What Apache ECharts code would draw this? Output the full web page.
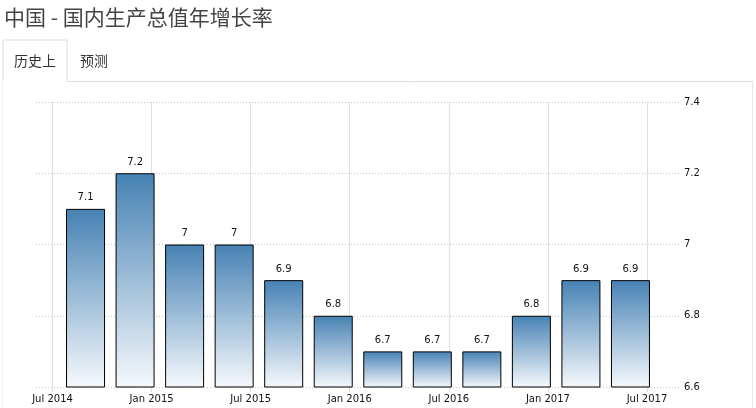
<!DOCTYPE html>
<html>
<head>
<meta charset="utf-8">
<script src="https://cdn.jsdelivr.net/npm/echarts@6/dist/echarts.min.js"></script>
<style>
html,body{margin:0;padding:0;background:#fff;}
#c{width:756px;height:408px;}
</style>
</head>
<body>
<div id="c"></div>
<script>
// Month index: months since Jan 2014 (Jan 2014 = 0)
const barMonths = [8, 11, 14, 17, 20, 23, 26, 29, 32, 35, 38, 41];
const gdpGrowth = [7.1, 7.2, 7.0, 7.0, 6.9, 6.8, 6.7, 6.7, 6.7, 6.8, 6.9, 6.9];
const tickMonths = [6, 12, 18, 24, 30, 36, 42];
const xTickLabels = ['Jul 2014', 'Jan 2015', 'Jul 2015', 'Jan 2016', 'Jul 2016', 'Jan 2017', 'Jul 2017'];
const yTicks = [6.6, 6.8, 7, 7.2, 7.4];

const chart = echarts.init(document.getElementById('c'));
const font = 'DejaVu Sans, Verdana, sans-serif';
const cjk = '"Noto Sans CJK SC", sans-serif';

chart.setOption({
  animation: false,
  title: {
    text: '中国 - 国内生产总值年增长率',
    left: 4, top: 7, padding: 0,
    textStyle: { fontFamily: cjk, fontSize: 21, fontWeight: 'normal', color: '#444' }
  },
  graphic: [
    { type: 'polyline', shape: { points: [[3, 81], [3, 40], [67, 40], [67, 81]] }, style: { stroke: '#dddddd', fill: null, lineWidth: 1 } },
    { type: 'line', shape: { x1: 67, y1: 81.5, x2: 752.5, y2: 81.5 }, style: { stroke: '#dddddd', lineWidth: 1 } },
    { type: 'line', shape: { x1: 752.5, y1: 81, x2: 752.5, y2: 408 }, style: { stroke: '#e8e8e8', lineWidth: 1 } },
    { type: 'line', shape: { x1: 2.5, y1: 81, x2: 2.5, y2: 408 }, style: { stroke: '#f2f2f2', lineWidth: 1 } },
    { type: 'text', x: 35, y: 61, style: { text: '历史上', fontFamily: cjk, fontSize: 14, fill: '#333', align: 'center', verticalAlign: 'middle' } },
    { type: 'text', x: 94, y: 61, style: { text: '预测', fontFamily: cjk, fontSize: 14, fill: '#333', align: 'center', verticalAlign: 'middle' } }
  ],
  grid: { left: 36, right: 76, top: 102, bottom: 21 },
  xAxis: {
    type: 'value',
    min: 5, max: 44,
    axisLine: { show: false },
    axisTick: { show: true, customValues: tickMonths, length: 5, lineStyle: { color: '#dddddd' } },
    axisLabel: {
      customValues: tickMonths,
      margin: 7,
      fontFamily: font, fontSize: 10, color: '#111',
      formatter: function (v) { const i = tickMonths.indexOf(v); return i >= 0 ? xTickLabels[i] : ''; }
    },
    splitLine: { show: true, lineStyle: { color: '#e0e0e0', type: 'solid', width: 1 } }
  },
  yAxis: {
    type: 'value',
    position: 'right',
    min: 6.6, max: 7.4,
    axisLine: { show: false },
    axisTick: { show: false },
    axisLabel: {
      customValues: yTicks,
      margin: 4,
      fontFamily: font, fontSize: 10, color: '#111'
    },
    splitLine: { show: true, lineStyle: { color: '#c4c4c4', type: [1, 2], width: 1 } }
  },
  series: [{
    type: 'bar',
    barWidth: 39,
    data: barMonths.map((m, i) => [m, gdpGrowth[i]]),
    itemStyle: {
      borderColor: '#000',
      borderWidth: 1,
      color: new echarts.graphic.LinearGradient(0, 0, 0, 1, [
        { offset: 0, color: '#4682b4' },
        { offset: 1, color: '#f6f9fc' }
      ])
    },
    label: {
      show: true,
      position: 'top',
      distance: 6,
      fontFamily: font, fontSize: 10, color: '#111',
      formatter: function (p) { return String(p.value[1]); }
    }
  }]
});
</script>
</body>
</html>
